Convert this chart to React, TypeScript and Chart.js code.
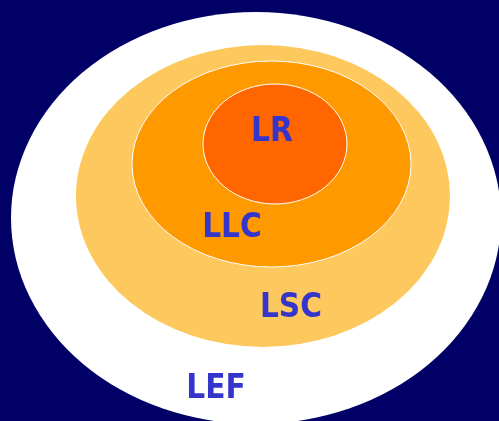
import React, { useEffect, useRef } from "react";
import { Chart, registerables } from "chart.js";

Chart.register(...registerables);

// Nested ellipses (outer to inner), in data units of a 499 x 421 plane
const layerNames = ["LEF", "LSC", "LLC", "LR"];
const centerX = [256, 263, 271.5, 275];
const centerY = [218, 196, 164, 144];
const radiusX = [245, 187, 139.5, 72];
const radiusY = [206, 151, 103, 60];
const fillColors = ["#FFFFFF", "#FDC85E", "#FF9900", "#FF6600"];
const strokeColors = ["", "", "#FFFFFF", "#FFFFFF"];
const labelX = [216, 291, 232, 272];
const labelY = [389, 308, 228, 132];

const ellipsePlugin = {
  id: "nestedEllipses",
  beforeDatasetsDraw(chart: any) {
    const { ctx, scales } = chart;
    const xs = scales.x;
    const ys = scales.y;
    ctx.save();
    for (let i = 0; i < layerNames.length; i++) {
      const cx = xs.getPixelForValue(centerX[i]);
      const cy = ys.getPixelForValue(centerY[i]);
      const rx = Math.abs(xs.getPixelForValue(centerX[i] + radiusX[i]) - cx);
      const ry = Math.abs(ys.getPixelForValue(centerY[i] + radiusY[i]) - cy);
      ctx.beginPath();
      ctx.ellipse(cx, cy, rx, ry, 0, 0, Math.PI * 2);
      ctx.fillStyle = fillColors[i];
      ctx.fill();
      if (strokeColors[i]) {
        ctx.lineWidth = 1;
        ctx.strokeStyle = strokeColors[i];
        ctx.stroke();
      }
    }
    ctx.restore();
  },
  afterDatasetsDraw(chart: any) {
    const { ctx, scales } = chart;
    ctx.save();
    ctx.font = "bold 33px 'Comic Sans MS', 'DejaVu Sans Condensed', 'DejaVu Sans', sans-serif";
    ctx.fillStyle = "#3535CC";
    ctx.textAlign = "center";
    ctx.textBaseline = "middle";
    for (let i = 0; i < layerNames.length; i++) {
      ctx.fillText(
        layerNames[i],
        scales.x.getPixelForValue(labelX[i]),
        scales.y.getPixelForValue(labelY[i])
      );
    }
    ctx.restore();
  },
};

export default function App() {
  const canvasRef = useRef<HTMLCanvasElement | null>(null);

  useEffect(() => {
    document.body.style.margin = "0";
    const canvas = canvasRef.current;
    if (!canvas) return;
    const chart = new Chart(canvas, {
      type: "scatter",
      data: {
        datasets: [
          {
            label: "centers",
            data: centerX.map((x, i) => ({ x, y: centerY[i] })),
            pointRadius: 0,
            pointHoverRadius: 0,
          },
        ],
      },
      options: {
        animation: false,
        responsive: false,
        maintainAspectRatio: false,
        devicePixelRatio: 1,
        layout: { padding: 0 },
        events: [],
        plugins: {
          legend: { display: false },
          tooltip: { enabled: false },
          title: { display: false },
        },
        scales: {
          x: { type: "linear", min: 0, max: 499, display: false },
          y: { type: "linear", min: 0, max: 421, reverse: true, display: false },
        },
      },
      plugins: [ellipsePlugin],
    });
    return () => chart.destroy();
  }, []);

  return (
    <div
      style={{
        position: "fixed",
        left: 0,
        top: 0,
        width: 499,
        height: 421,
        background: "#000066",
        overflow: "hidden",
      }}
    >
      <canvas ref={canvasRef} width={499} height={421} style={{ display: "block" }} />
    </div>
  );
}
